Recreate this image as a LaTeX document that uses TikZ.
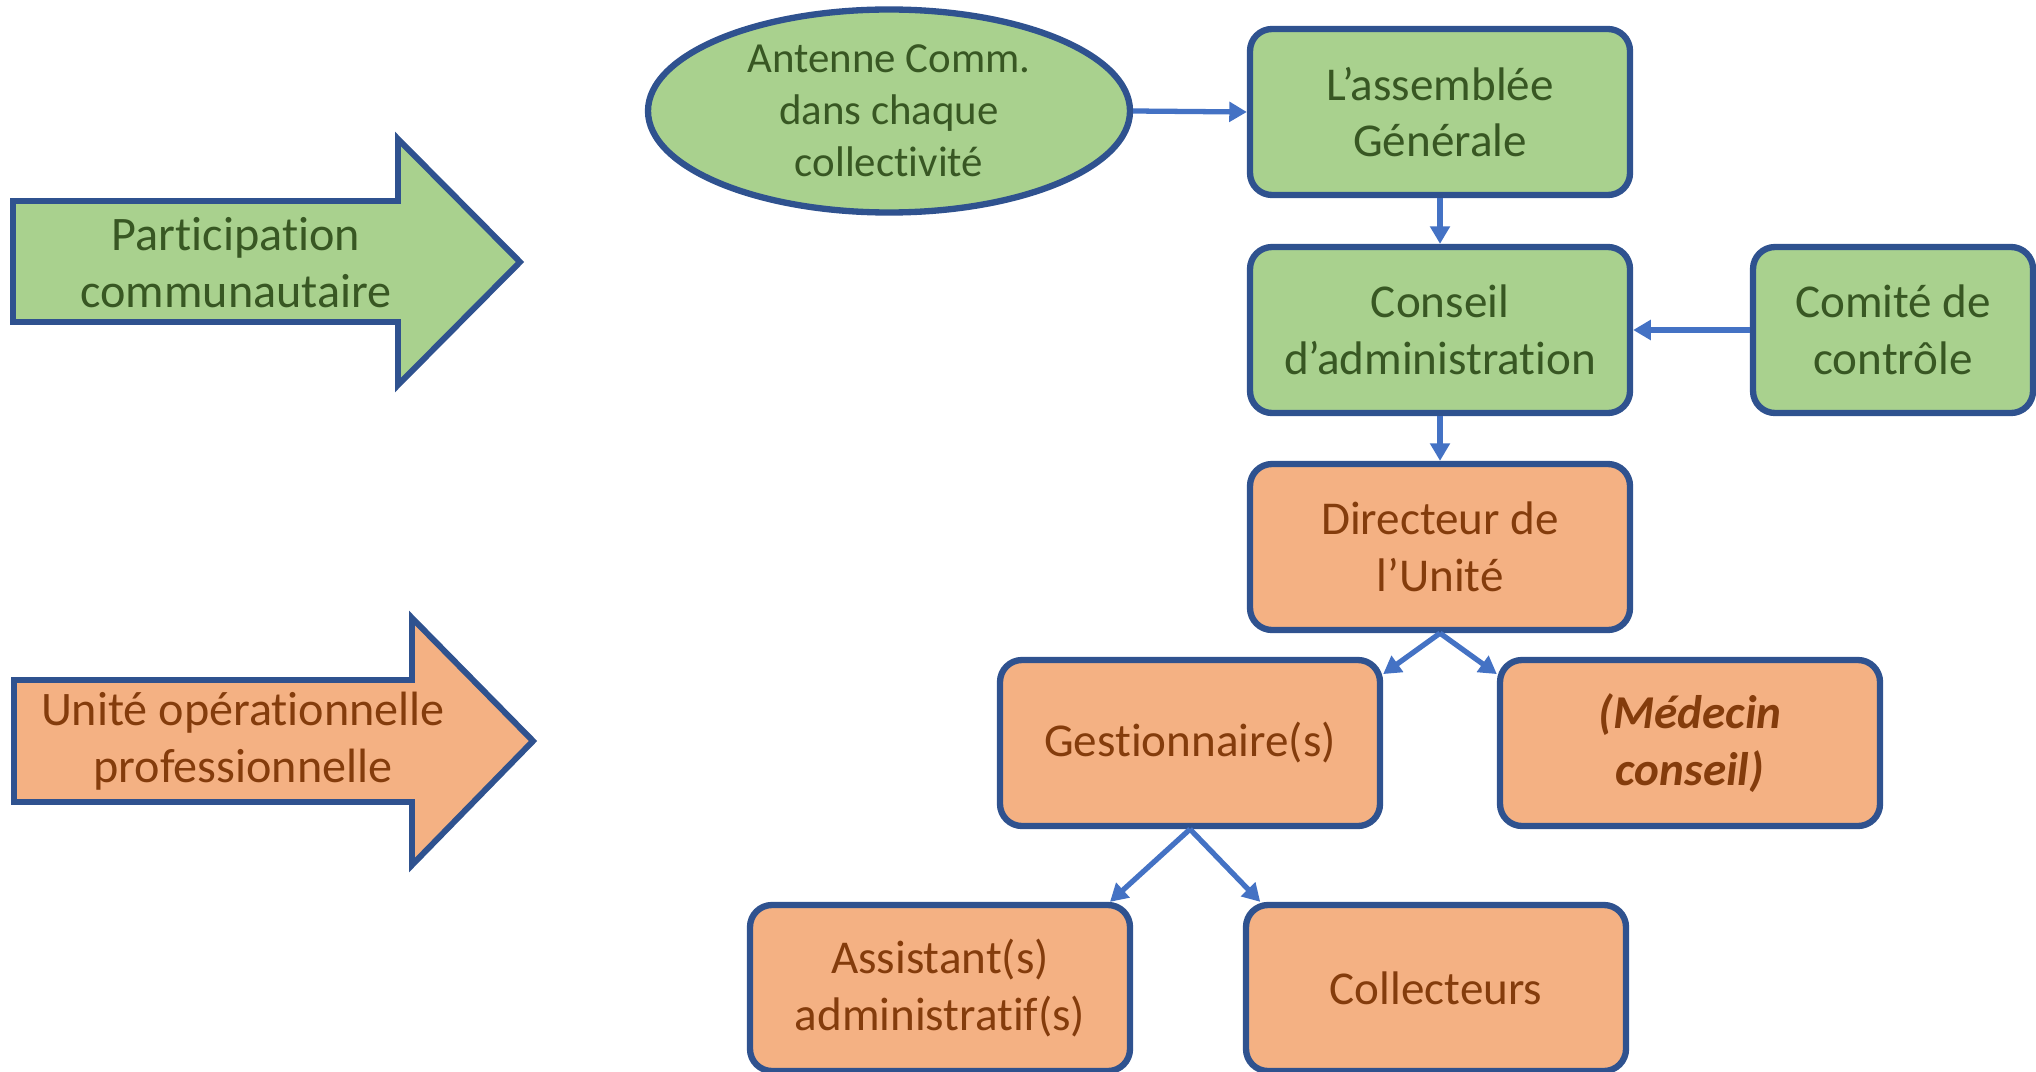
\documentclass[tikz,border=0pt]{standalone}
\usepackage{fontspec}
\setmainfont{Carlito}[Ligatures=NoCommon]
\usetikzlibrary{shapes.geometric,arrows.meta,calc}
\definecolor{gfill}{HTML}{A9D18E}
\definecolor{ofill}{HTML}{F4B183}
\definecolor{bord}{HTML}{2F528F}
\definecolor{gtext}{HTML}{385723}
\definecolor{otext}{HTML}{843C0C}
\definecolor{conn}{HTML}{4472C4}
\tikzset{
  boxbase/.style={draw=bord, line width=1.8pt, rounded corners=0.22cm, minimum width=3.8cm, minimum height=1.66cm, align=center, inner sep=0pt, font=\fontsize{13.4}{16.1}\selectfont},
  gbox/.style={boxbase, fill=gfill, text=gtext},
  obox/.style={boxbase, fill=ofill, text=otext},
  bigarrow/.style={draw=bord, line width=1.7pt, line join=miter},
  arrtext/.style={align=center, inner sep=0pt, font=\fontsize{13.7}{16.2}\selectfont},
  conn/.style={draw=conn, line width=1.5pt, -{Triangle[length=5pt,width=5.5pt]}}
}
\begin{document}
\begin{tikzpicture}
\useasboundingbox (0,0) rectangle (20.36,-10.71);
% left block arrows
\draw[bigarrow, fill=gfill] (0.13,-2.01) -- (3.98,-2.01) -- (3.98,-1.39) -- (5.20,-2.62) -- (3.98,-3.85) -- (3.98,-3.22) -- (0.13,-3.22) -- cycle;
\node[arrtext, text=gtext] (t1) at (2.36,-2.63) {Participation\\communautaire};
\draw[bigarrow, fill=ofill] (0.14,-6.80) -- (4.12,-6.80) -- (4.12,-6.18) -- (5.33,-7.41) -- (4.12,-8.65) -- (4.12,-8.02) -- (0.14,-8.02) -- cycle;
\node[arrtext, text=otext] (t2) at (2.43,-7.41) {Unité opérationnelle\\professionnelle};
% nodes
\node[ellipse, draw=bord, line width=1.8pt, fill=gfill, text=gtext, minimum width=4.82cm, minimum height=2.03cm, inner sep=0pt, align=center, font=\fontsize{12.2}{14.8}\selectfont] (ant) at (8.89,-1.11) {Antenne Comm.\\dans chaque\\collectivité};
\node[gbox] (ag) at (14.40,-1.12) {L’assemblée\\Générale};
\node[gbox] (ca) at (14.40,-3.30) {Conseil\\d’administration};
\node[gbox, minimum width=2.80cm] (cc) at (18.93,-3.30) {Comité de\\contrôle};
\node[obox] (dir) at (14.40,-5.47) {Directeur de\\l’Unité};
\node[obox] (gest) at (11.90,-7.43) {Gestionnaire(s)};
\node[obox] (med) at (16.90,-7.43) {\bfseries\itshape (Médecin\\\bfseries\itshape conseil)};
\node[obox] (asst) at (9.40,-9.88) {Assistant(s)\\administratif(s)};
\node[obox] (coll) at (14.36,-9.88) {Collecteurs};
% connectors
\draw[conn] (ant.east) -- (ag.west);
\draw[conn] (ag.south) -- (ca.north);
\draw[conn] (cc.west) -- (ca.east);
\draw[conn] (ca.south) -- (dir.north);
\draw[conn] (dir.south) -- ($(gest.north east)!0.2!(gest.east)$);
\draw[conn] (dir.south) -- ($(med.north west)!0.2!(med.west)$);
\draw[conn] (gest.south) -- ($(asst.north)!0.88!(asst.north east)$);
\draw[conn] (gest.south) -- ($(coll.north west)!0.09!(coll.north)$);
\end{tikzpicture}
\end{document}
